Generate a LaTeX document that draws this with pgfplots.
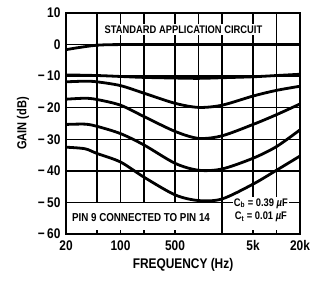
\documentclass[border=0pt]{standalone}
\usepackage{fontspec}
\setmainfont{Liberation Sans}[BoldFont={Liberation Sans Bold}, FakeStretch=0.85]
\usepackage{pgfplots}
\pgfplotsset{compat=1.18}
\tikzset{curve/.style={black, line width=2.8pt, smooth, mark=none},
  gl/.style={black, line width=1.5pt}}
\begin{document}
\begin{tikzpicture}
\useasboundingbox (-66pt,-59pt) rectangle (246pt,234pt);
\begin{axis}[
  scale only axis, width=234pt, height=221pt,
  xmode=log, xmin=20, xmax=20000, ymin=-60, ymax=10,
  xtick={20,50,100,200,500,1000,2000,5000,10000,20000},
  xticklabels={20,,100,,500,,,5k,,20k},
  ytick={-60,-50,-40,-30,-20,-10,0,10},
  yticklabels={−\,60,−\,50,−\,40,−\,30,−\,20,−\,10,0,10},
  major tick length=0pt,
  axis line style={black, line width=2pt},
  tick label style={font=\bfseries\fontsize{14}{14}\selectfont},
  xticklabel style={yshift=-3pt},
  yticklabel style={xshift=-2pt},
  xlabel={FREQUENCY (Hz)},
  ylabel={GAIN (dB)},
  xlabel style={font=\bfseries\fontsize{14}{14}\selectfont, yshift=-1pt},
  ylabel style={font=\bfseries\fontsize{13}{13}\selectfont, yshift=2pt},
  clip=true,
]
\draw[gl] (axis cs:20,0) -- (axis cs:20000,0);
\draw[gl] (axis cs:20,-10) -- (axis cs:20000,-10);
\draw[gl] (axis cs:20,-20) -- (axis cs:20000,-20);
\draw[gl] (axis cs:20,-30) -- (axis cs:20000,-30);
\draw[gl] (axis cs:20,-40) -- (axis cs:20000,-40);
\draw[gl] (axis cs:20,-50) -- (axis cs:20000,-50);
\draw[gl] (axis cs:50,-50) -- (axis cs:50,10);
\draw[gl] (axis cs:100,-50) -- (axis cs:100,10);
\draw[gl] (axis cs:200,-50) -- (axis cs:200,10);
\draw[gl] (axis cs:500,-50) -- (axis cs:500,10);
\draw[gl] (axis cs:1000,-50) -- (axis cs:1000,10);
\draw[gl] (axis cs:2000,-60) -- (axis cs:2000,10);
\draw[gl] (axis cs:5000,-50) -- (axis cs:5000,10);
\draw[gl] (axis cs:10000,-50) -- (axis cs:10000,10);
\draw[gl] (axis cs:50,-60) -- ++(0pt,4pt);
\draw[gl] (axis cs:100,-60) -- ++(0pt,4pt);
\draw[gl] (axis cs:200,-60) -- ++(0pt,4pt);
\draw[gl] (axis cs:500,-60) -- ++(0pt,4pt);
\draw[gl] (axis cs:5000,-60) -- ++(0pt,4pt);
\draw[gl] (axis cs:10000,-60) -- ++(0pt,4pt);
\addplot[curve] coordinates {(20,-1.6) (30,-0.9) (50,-0.2) (100,0) (1000,0) (20000,0)};
\addplot[curve] coordinates {(20,-9.6) (50,-9.8) (100,-10.1) (200,-10.4) (500,-10.6) (1000,-10.7) (2000,-10.5) (5000,-10.2) (10000,-9.8) (20000,-9.4)};
\addplot[curve] coordinates {(20,-11.8) (35,-11.6) (50,-11.8) (100,-13) (200,-15.4) (500,-18.6) (1000,-19.9) (2000,-19.2) (5000,-16.3) (10000,-14.5) (20000,-13.2)};
\addplot[curve] coordinates {(20,-17.3) (35,-17) (50,-17.4) (100,-19.2) (200,-22.8) (500,-27.5) (1000,-29.7) (2000,-28.9) (5000,-25.3) (10000,-22.2) (20000,-18.8)};
\addplot[curve] coordinates {(20,-25.3) (35,-25.2) (50,-25.9) (100,-28.2) (200,-31.8) (500,-37.6) (1000,-39.8) (2000,-39.4) (5000,-36) (10000,-32.3) (20000,-27)};
\addplot[curve] coordinates {(20,-32.5) (35,-33) (50,-34.5) (100,-37.2) (200,-42) (500,-47.6) (1000,-49.4) (2000,-48.9) (5000,-44.2) (10000,-39.8) (20000,-35.3)};
\node[fill=white, inner sep=1.5pt, font=\bfseries\fontsize{11}{11}\selectfont] at (axis cs:641,4.8) {STANDARD APPLICATION CIRCUIT};
\node[font=\bfseries\fontsize{11.5}{11.5}\selectfont] at (axis cs:183,-54.8) {PIN 9 CONNECTED TO PIN 14};
\node[fill=white, inner sep=1pt, font=\bfseries\fontsize{11}{11}\selectfont] at (axis cs:6300,-50.3) {C\textsubscript{b} = 0.39 \textit{µ}F};
\node[font=\bfseries\fontsize{11}{11}\selectfont] at (axis cs:6300,-54.7) {C\textsubscript{t} = 0.01 \textit{µ}F};
\end{axis}
\end{tikzpicture}
\end{document}
